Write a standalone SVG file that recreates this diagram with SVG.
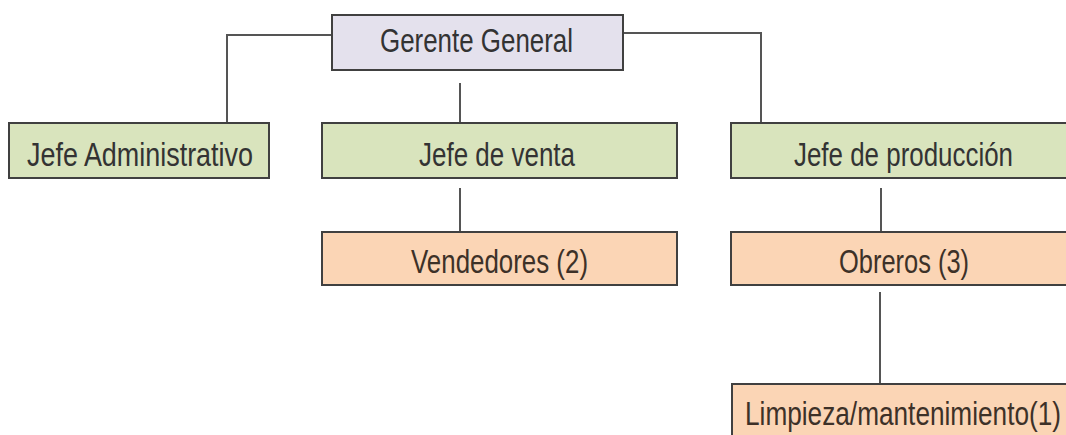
<svg xmlns="http://www.w3.org/2000/svg" width="1066" height="435" viewBox="0 0 1066 435">
<style>
.box{stroke:#404040;stroke-width:2}
.top{fill:#e4e1ed}
.green{fill:#d9e4bd}
.orange{fill:#fbd5b5}
.lbl{font-family:"Liberation Sans Narrow","Liberation Sans",Arial,sans-serif;font-size:33px;fill:#333333}
.lbl2{font-family:"Liberation Sans Narrow","Liberation Sans",Arial,sans-serif;font-size:33px;fill:#3d3128}
.conn{fill:none;stroke:#555555;stroke-width:2}
</style>
<rect width="1066" height="435" fill="#ffffff"/>
<g id="connectors">
<path class="conn" d="M332,35 H227 V123"/>
<path class="conn" d="M623,33 H761 V123"/>
<path class="conn" d="M460,83 V123"/>
<path class="conn" d="M460,188 V232"/>
<path class="conn" d="M881,188 V232"/>
<path class="conn" d="M880,292 V384"/>
</g>
<g id="gerente">
<rect class="box top" x="332" y="15" width="291" height="55"/>
<text class="lbl" x="380" y="52" textLength="193" lengthAdjust="spacingAndGlyphs">Gerente General</text>
</g>
<g id="jefe-admin">
<rect class="box green" x="9" y="123" width="260" height="55"/>
<text class="lbl" x="27" y="166" textLength="226" lengthAdjust="spacingAndGlyphs">Jefe Administrativo</text>
</g>
<g id="jefe-venta">
<rect class="box green" x="322" y="123" width="355" height="55"/>
<text class="lbl" x="419" y="166" textLength="156" lengthAdjust="spacingAndGlyphs">Jefe de venta</text>
</g>
<g id="jefe-produccion">
<rect class="box green" x="731" y="123" width="345" height="55"/>
<text class="lbl" x="794" y="166" textLength="219" lengthAdjust="spacingAndGlyphs">Jefe de producción</text>
</g>
<g id="vendedores">
<rect class="box orange" x="322" y="232" width="355" height="53"/>
<text class="lbl2" x="411" y="273" textLength="177" lengthAdjust="spacingAndGlyphs">Vendedores (2)</text>
</g>
<g id="obreros">
<rect class="box orange" x="731" y="232" width="345" height="53"/>
<text class="lbl2" x="839" y="273" textLength="130" lengthAdjust="spacingAndGlyphs">Obreros (3)</text>
</g>
<g id="limpieza">
<rect class="box orange" x="732" y="384" width="344" height="60"/>
<text class="lbl2" x="745" y="425" textLength="316" lengthAdjust="spacingAndGlyphs">Limpieza/mantenimiento(1)</text>
</g>
</svg>
